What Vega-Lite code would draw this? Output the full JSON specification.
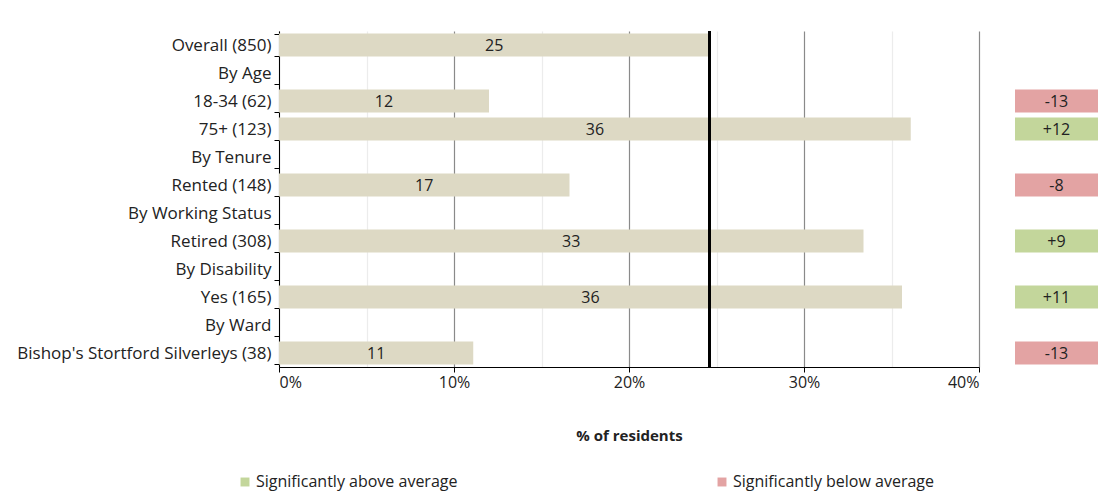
{
  "$schema": "https://vega.github.io/schema/vega-lite/v6.json",
  "padding": {"left": 16, "top": 22, "right": 0, "bottom": 6},
  "background": "white",
  "config": {
    "view": {"stroke": null},
    "font": "Open Sans",
    "text": {"font": "Open Sans"}
  },
  "data": {
    "values": [
      {"category": "Overall (850)", "value": 24.6, "label": "25", "diff": null, "sig": null},
      {"category": "By Age", "value": null, "label": null, "diff": null, "sig": null},
      {"category": "18-34 (62)", "value": 12.0, "label": "12", "diff": "-13", "sig": "Significantly below average"},
      {"category": "75+ (123)", "value": 36.1, "label": "36", "diff": "+12", "sig": "Significantly above average"},
      {"category": "By Tenure", "value": null, "label": null, "diff": null, "sig": null},
      {"category": "Rented (148)", "value": 16.6, "label": "17", "diff": "-8", "sig": "Significantly below average"},
      {"category": "By Working Status", "value": null, "label": null, "diff": null, "sig": null},
      {"category": "Retired (308)", "value": 33.4, "label": "33", "diff": "+9", "sig": "Significantly above average"},
      {"category": "By Disability", "value": null, "label": null, "diff": null, "sig": null},
      {"category": "Yes (165)", "value": 35.6, "label": "36", "diff": "+11", "sig": "Significantly above average"},
      {"category": "By Ward", "value": null, "label": null, "diff": null, "sig": null},
      {"category": "Bishop's Stortford Silverleys (38)", "value": 11.1, "label": "11", "diff": "-13", "sig": "Significantly below average"}
    ]
  },
  "spacing": 35,
  "hconcat": [
    {
      "width": 700,
      "height": 336,
      "encoding": {
        "y": {
          "field": "category",
          "type": "nominal",
          "sort": null,
          "scale": {
            "domain": ["Overall (850)", "By Age", "18-34 (62)", "75+ (123)", "By Tenure", "Rented (148)", "By Working Status", "Retired (308)", "By Disability", "Yes (165)", "By Ward", "Bishop's Stortford Silverleys (38)"],
            "paddingInner": 0.18,
            "paddingOuter": 0.09
          },
          "axis": {
            "title": null,
            "labelFontSize": 17,
            "labelColor": "#222222",
            "labelPadding": 3,
            "domainColor": "#000000",
            "tickColor": "#000000",
            "tickSize": 5,
            "tickBand": "extent",
            "labelLimit": 400
          }
        }
      },
      "layer": [
        {
          "mark": {"type": "bar", "color": "#ddd9c4"},
          "encoding": {
            "x": {
              "field": "value",
              "type": "quantitative",
              "scale": {"domain": [0, 40], "nice": false},
              "axis": {
                "title": "% of residents",
                "titleFontSize": 15,
                "titleFontWeight": "bold",
                "titleColor": "#222222",
                "titlePadding": 38,
                "values": [0, 5, 10, 15, 20, 25, 30, 35, 40],
                "labelExpr": "datum.value % 10 === 0 ? datum.value + '%' : ''",
                "labelFontSize": 16,
                "labelColor": "#222222",
                "labelPadding": 2,
                "domainColor": "#000000",
                "tickColor": {"condition": {"test": "datum.value % 10 === 0", "value": "#000000"}, "value": "transparent"},
                "tickSize": 5,
                "grid": true,
                "gridColor": {"condition": {"test": "datum.value % 10 === 0", "value": "#8a8a8a"}, "value": "#ececec"},
                "gridWidth": 1.2
              }
            }
          }
        },
        {
          "transform": [{"filter": "datum.value != null"}, {"calculate": "datum.value / 2", "as": "mid"}],
          "mark": {"type": "text", "fontSize": 16, "color": "#222222", "baseline": "middle", "dy": 1},
          "encoding": {
            "x": {"field": "mid", "type": "quantitative"},
            "text": {"field": "label", "type": "nominal"}
          }
        },
        {
          "mark": {"type": "rule", "color": "#000000", "strokeWidth": 2},
          "encoding": {"x": {"datum": 24.6}, "y": {"value": 0}, "y2": {"value": 336}}
        }
      ]
    },
    {
      "width": 83,
      "height": 336,
      "transform": [{"filter": "datum.sig != null"}],
      "encoding": {
        "y": {
          "field": "category",
          "type": "nominal",
          "sort": null,
          "scale": {
            "domain": ["Overall (850)", "By Age", "18-34 (62)", "75+ (123)", "By Tenure", "Rented (148)", "By Working Status", "Retired (308)", "By Disability", "Yes (165)", "By Ward", "Bishop's Stortford Silverleys (38)"],
            "paddingInner": 0.18,
            "paddingOuter": 0.09
          },
          "axis": null
        }
      },
      "layer": [
        {
          "mark": {"type": "bar"},
          "encoding": {
            "x": {"datum": 0, "type": "quantitative", "scale": {"domain": [0, 1]}, "axis": null},
            "x2": {"datum": 1},
            "color": {
              "field": "sig",
              "type": "nominal",
              "scale": {"domain": ["Significantly above average", "Significantly below average"], "range": ["#c3d69b", "#e3a3a3"]},
              "legend": {
                "title": null,
                "orient": "none",
                "direction": "horizontal",
                "legendX": -42,
                "legendY": 443,
                "symbolType": "square",
                "symbolSize": 80,
                "symbolStrokeWidth": 0,
                "labelFontSize": 16,
                "labelColor": "#222222",
                "labelOffset": 3,
                "columnPadding": 256,
                "labelLimit": 400
              }
            }
          }
        },
        {
          "mark": {"type": "text", "fontSize": 16, "color": "#222222", "baseline": "middle", "dy": 1},
          "encoding": {
            "x": {"datum": 0.5, "type": "quantitative"},
            "text": {"field": "diff", "type": "nominal"}
          }
        }
      ]
    }
  ]
}
